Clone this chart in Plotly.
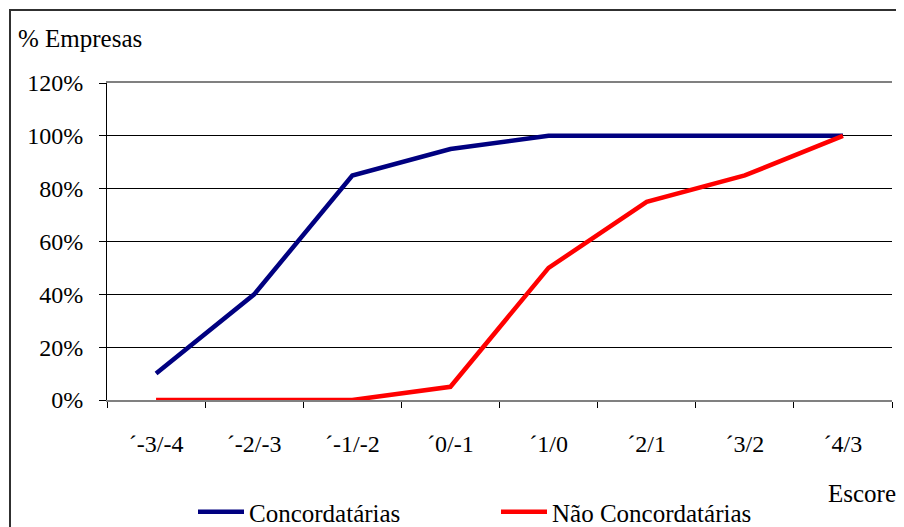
import plotly.graph_objects as go

categories = ["´-3/-4", "´-2/-3", "´-1/-2", "´0/-1", "´1/0", "´2/1", "´3/2", "´4/3"]
concordatarias = [10, 40, 85, 95, 100, 100, 100, 100]
nao_concordatarias = [0, 0, 0, 5, 50, 75, 85, 100]
y_ticks = [0, 20, 40, 60, 80, 100, 120]
y_tick_labels = ["0%", "20%", "40%", "60%", "80%", "100%", "120%"]

FONT = "Liberation Serif"

fig = go.Figure()
fig.add_trace(go.Scatter(x=categories, y=concordatarias, mode="lines",
                         name="Concordatárias", line=dict(color="#000080", width=4.5)))
fig.add_trace(go.Scatter(x=categories, y=nao_concordatarias, mode="lines",
                         name="Não Concordatárias", line=dict(color="#FF0000", width=4.5)))

# page body adds an 8px offset; compensate so the plot lands where it should
OFF = 8
W, H = 904 - OFF, 527 - OFF
L, R, T, B = 107 - OFF, 12, 83 - OFF, 127
pw, ph = W - L - R, H - T - B

def px(x):
    return (x - OFF - L) / pw

def py(y):
    return (H - B - (y - OFF)) / ph

fig.update_layout(
    width=W, height=H,
    margin=dict(l=L, r=R, t=T, b=B, autoexpand=False),
    paper_bgcolor="white", plot_bgcolor="white",
    font=dict(family=FONT, size=24, color="black"),
    showlegend=True,
    legend=dict(orientation="h", x=px(193), y=py(512), xanchor="left", yanchor="middle",
                font=dict(family=FONT, size=25, color="black"),
                itemwidth=46, entrywidth=242, bgcolor="rgba(0,0,0,0)"),
    xaxis=dict(type="category", tickson="boundaries", ticks="outside", ticklen=6,
               tickcolor="black", showline=True, linecolor="#808080", linewidth=2,
               mirror=True,
               showgrid=False, zeroline=False, ticklabelstandoff=21, automargin=False,
               tickfont=dict(family=FONT, size=24), range=[-0.5, 7.5]),
    yaxis=dict(range=[0, 120], tickvals=y_ticks, ticktext=y_tick_labels,
               ticks="outside", ticklen=7, tickcolor="black",
               showline=True, linecolor="black", linewidth=1, automargin=False,
               showgrid=True, gridcolor="black", gridwidth=1, zeroline=False,
               ticklabelstandoff=11, tickfont=dict(family=FONT, size=24)),
    annotations=[
        dict(text="% Empresas", xref="paper", yref="paper", x=px(16), y=py(38),
             xanchor="left", yanchor="middle", showarrow=False,
             font=dict(family=FONT, size=25)),
        dict(text="Escore", xref="paper", yref="paper", x=px(898), y=py(493),
             xanchor="right", yanchor="middle", showarrow=False,
             font=dict(family=FONT, size=25)),
    ],
    shapes=[
        dict(type="rect", xref="paper", yref="paper", x0=px(10), x1=px(915),
             y0=py(540), y1=py(10), line=dict(color="#303030", width=2), layer="below"),
    ],
)

fig.write_html("out.html")
